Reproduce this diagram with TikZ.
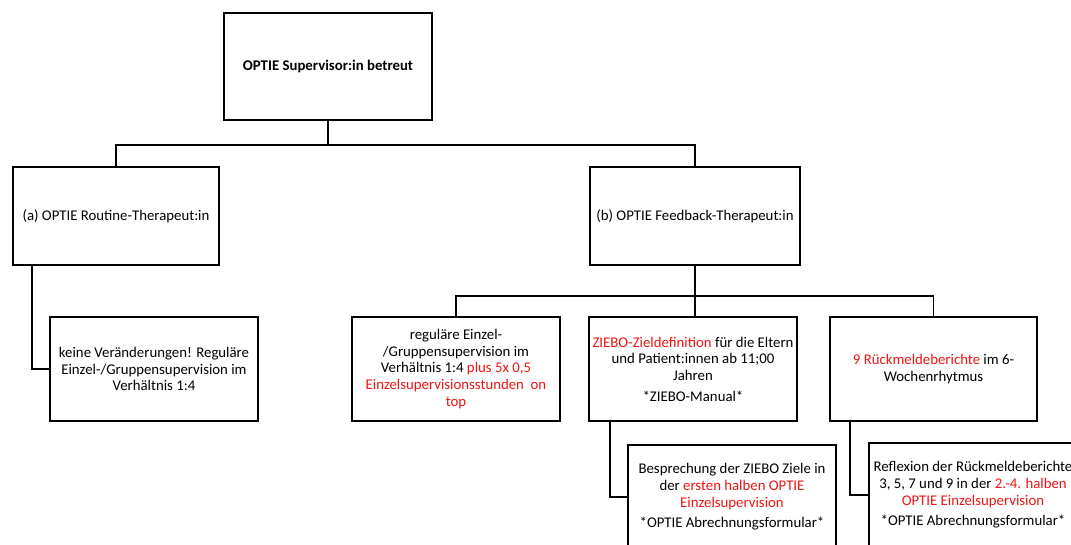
\documentclass[tikz,border=0pt]{standalone}
\usepackage{fontspec}
\setmainfont{Carlito}
\definecolor{hred}{RGB}{240,20,20}
\newcommand{\hr}[1]{\textcolor{hred}{#1}}
\begin{document}
\begin{tikzpicture}[x=1pt,y=-1pt,
  box/.style={draw=black, line width=1.6pt, rectangle, align=center, inner sep=1pt,
    minimum width=208pt, minimum height=104pt, font=\fontsize{14.8}{16.7}\selectfont},
  link/.style={draw=black, line width=1.6pt}]
\useasboundingbox (0,0) rectangle (1071,544);
\clip (0,0) rectangle (1071,544);
\fill[white] (0,0) rectangle (1071,544);
\node[box, minimum width=208pt, minimum height=107pt, font=\fontsize{14.8}{16.7}\selectfont\bfseries] (top) at (328,66.5) {OPTIE Supervisor:in betreut};
\node[box, minimum width=206pt, minimum height=98pt] (a) at (116,216) {(a) OPTIE Routine-Therapeut:in};
\node[box, minimum width=210pt, minimum height=98pt] (b) at (695,216) {(b) OPTIE Feedback-Therapeut:in};
\node[box] (keine) at (154,369) {keine Veränderungen! Reguläre\\Einzel-/Gruppensupervision im\\Verhältnis 1:4};
\node[box] (reg) at (456,369) {reguläre Einzel-\\/Gruppensupervision im\\Verhältnis 1:4 \hr{plus 5x 0,5}\\\hr{Einzelsupervisionsstunden\ \ on}\\\hr{top}};
\node[box] (ziebo) at (693,369) {\hr{ZIEBO-Zieldefinition} für die Eltern\\und Patient:innen ab 11;00\\Jahren\\[4pt]*ZIEBO-Manual*};
\node[box, minimum width=207pt] (neun) at (933.5,369) {\hr{9 Rückmeldeberichte} im 6-\\Wochenrhytmus};
\node[box] (besp) at (732,497) {Besprechung der ZIEBO Ziele in\\der \hr{ersten halben OPTIE}\\\hr{Einzelsupervision}\\[4pt]*OPTIE Abrechnungsformular*};
\node[box] (refl) at (973,495) {Reflexion der Rückmeldeberichte\\3, 5, 7 und 9 in der \hr{2.-4. halben}\\\hr{OPTIE Einzelsupervision}\\[4pt]*OPTIE Abrechnungsformular*};
% connectors
\draw[link] (top.south) -- ++(0,24) coordinate (tb);
\draw[link] (a.north) |- (tb) -| (b.north);
\draw[link] ([xshift=20pt]a.south west) |- (keine.west);
\draw[link] (b.south) -- ++(0,30) coordinate (bb);
\draw[link] (reg.north) |- (bb) -| (neun.north);
\draw[link] (bb) -- (bb |- ziebo.north);
\draw[link] ([xshift=22pt]ziebo.south west) |- (besp.west);
\draw[link] ([xshift=21pt]neun.south west) |- (refl.west);
\end{tikzpicture}
\end{document}
